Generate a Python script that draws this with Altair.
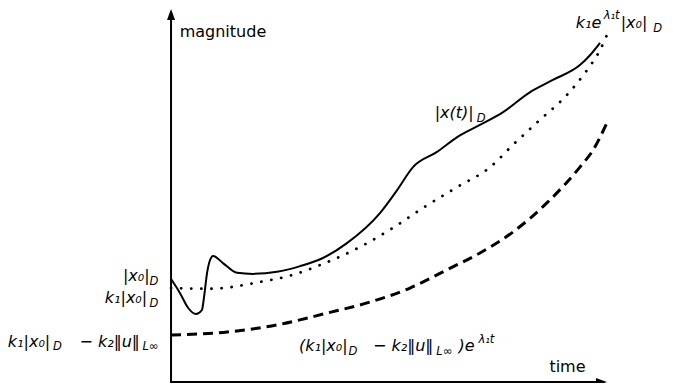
import altair as alt
import pandas as pd

# --- curve data (time, magnitude) ---
solid_t = [0, 0.21, 0.40, 0.58, 0.72, 0.77, 0.84, 0.91, 0.98, 1.21, 1.54, 1.91, 2.47, 3.01,
           3.54, 4.10, 4.87, 5.27, 5.64, 6.20, 6.67, 7.20, 7.74, 8.37, 8.90, 9.53, 9.77, 10.00]
solid_m = [3.05, 2.63, 2.19, 2.01, 2.13, 2.52, 3.23, 3.61, 3.73, 3.52, 3.23, 3.20, 3.26, 3.43,
           3.67, 4.11, 5.00, 5.68, 6.36, 6.81, 7.25, 7.61, 7.99, 8.58, 8.94, 9.38, 9.68, 10.04]

dotted_t = [0, 0.91, 2.07, 2.84, 3.47, 4.41, 5.17, 5.87, 6.67, 7.44, 7.97, 8.60, 9.23, 9.70, 10.00, 10.16]
dotted_m = [2.78, 2.76, 2.96, 3.17, 3.46, 4.00, 4.56, 5.15, 5.77, 6.36, 7.02, 7.76, 8.50, 9.24, 9.83, 10.27]

dashed_t = [0, 1.31, 2.47, 3.64, 4.57, 5.57, 6.43, 7.20, 7.97, 8.76, 9.53, 9.84, 10.16]
dashed_m = [1.39, 1.48, 1.69, 2.04, 2.34, 2.78, 3.32, 3.82, 4.44, 5.30, 6.36, 6.87, 7.67]

# --- axis extents ---
x_axis_end = 10.02
y_axis_end = 10.86

# --- labels (text, time, magnitude); each piece centred on its anchor ---
plain_text = ["magnitude", "time"]
plain_t = [1.21, 9.24]
plain_m = [10.21, 0.30]

main_text = ["|x(t)|", "k₁e", "|x₀|", "|x₀|", "k₁|x₀|", "k₁|x₀|", "− k₂‖u‖",
             "(k₁|x₀|", "− k₂‖u‖", ")e"]
main_t = [6.60, 9.73, 10.79, -0.81, -1.05, -3.31, -1.43, 3.55, 5.41, 6.89]
main_m = [7.81, 10.48, 10.48, 2.99, 2.34, 1.04, 1.04, 0.92, 0.92, 0.92]

small_text = ["D", "λ₁t", "D", "D", "D", "D", "L∞", "D", "L∞", "λ₁t"]
small_t = [7.23, 10.27, 11.34, -0.40, -0.40, -2.65, -0.48, 4.24, 6.37, 7.35]
small_m = [7.70, 10.73, 10.36, 2.87, 2.22, 0.95, 0.95, 0.80, 0.80, 1.15]

XS = alt.Scale(domain=[-3.8, 11.7], nice=False, zero=False)
YS = alt.Scale(domain=[-0.03, 11.07], nice=False, zero=False)


def enc(ch):
    return ch.encode(
        x=alt.X("t:Q", scale=XS, axis=None),
        y=alt.Y("m:Q", scale=YS, axis=None),
    )


solid = enc(alt.Chart(pd.DataFrame({"t": solid_t, "m": solid_m})).mark_line(
    color="black", strokeWidth=2, interpolate="monotone"))
dotted = enc(alt.Chart(pd.DataFrame({"t": dotted_t, "m": dotted_m})).mark_line(
    color="black", strokeWidth=2.8, strokeCap="round", strokeDash=[0.1, 10], interpolate="monotone"))
dashed = enc(alt.Chart(pd.DataFrame({"t": dashed_t, "m": dashed_m})).mark_line(
    color="black", strokeWidth=3, strokeDash=[10, 6], interpolate="monotone"))

x_axis = alt.Chart(pd.DataFrame({"t": [0], "t2": [x_axis_end], "m": [0]})).mark_rule(
    color="black", strokeWidth=2, strokeCap="square").encode(
    x=alt.X("t:Q", scale=XS, axis=None), x2="t2:Q", y=alt.Y("m:Q", scale=YS, axis=None))
y_axis = alt.Chart(pd.DataFrame({"t": [0], "m": [0], "m2": [y_axis_end]})).mark_rule(
    color="black", strokeWidth=2, strokeCap="square").encode(
    x=alt.X("t:Q", scale=XS, axis=None), y=alt.Y("m:Q", scale=YS, axis=None), y2="m2:Q")

up_head = enc(alt.Chart(pd.DataFrame({"t": [0], "m": [y_axis_end]})).mark_point(
    shape="M0,-1L0.67,0.83L-0.67,0.83Z", filled=True, size=144, color="black", opacity=1, strokeWidth=0))
right_head = enc(alt.Chart(pd.DataFrame({"t": [x_axis_end], "m": [0]})).mark_point(
    shape="M1,0L-0.83,0.67L-0.83,-0.67Z", filled=True, size=144, color="black", opacity=1, strokeWidth=0))

font = "DejaVu Sans"
plain = enc(alt.Chart(pd.DataFrame({"t": plain_t, "m": plain_m, "label": plain_text})).mark_text(
    align="center", baseline="alphabetic", font=font, fontSize=16, color="black")).encode(text="label:N")
main = enc(alt.Chart(pd.DataFrame({"t": main_t, "m": main_m, "label": main_text})).mark_text(
    align="center", baseline="alphabetic", font=font, fontSize=16, fontStyle="italic", color="black")).encode(text="label:N")
small = enc(alt.Chart(pd.DataFrame({"t": small_t, "m": small_m, "label": small_text})).mark_text(
    align="center", baseline="alphabetic", font=font, fontSize=11.5, fontStyle="italic", color="black")).encode(text="label:N")

chart = alt.layer(dashed, dotted, solid, x_axis, y_axis, up_head, right_head, plain, main, small).properties(
    width=665, height=375, padding=0,
    autosize=alt.AutoSizeParams(type="none"),
).configure_view(stroke=None)

chart.save("out.html", embed_options={"renderer": "svg", "actions": False})
